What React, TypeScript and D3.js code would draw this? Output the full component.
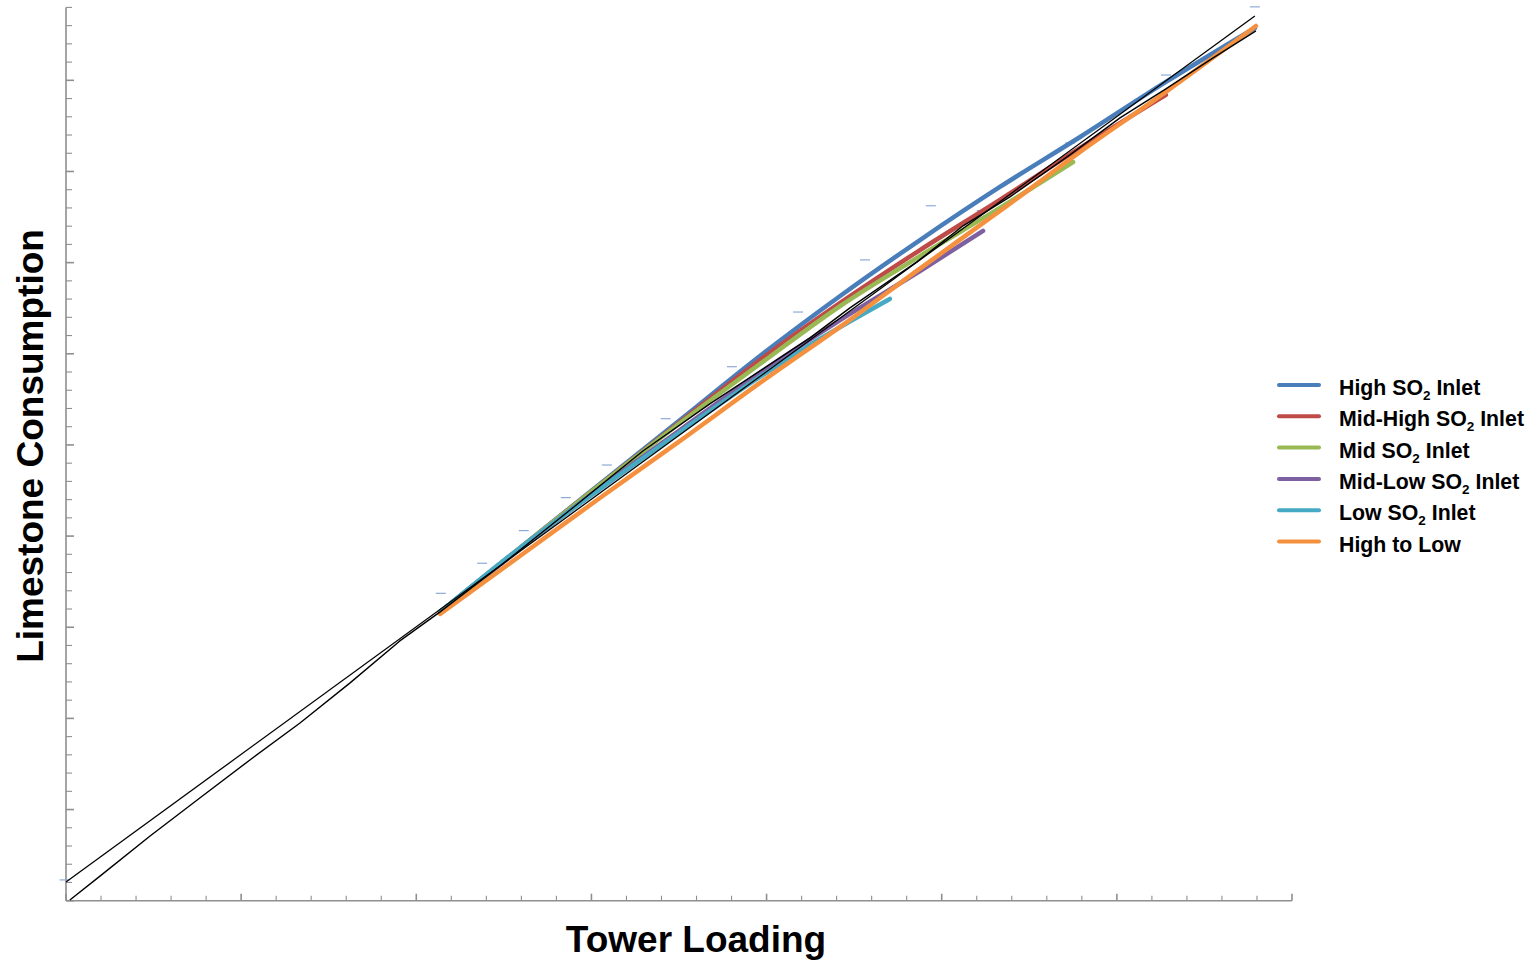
import { useEffect, useRef } from "react";
import * as d3 from "d3";

type Pt = [number, number];

// axis extents (tower loading / limestone consumption, unlabelled units)
const X_MAX = 35;
const Y_MAX = 49;

// series, [tower loading, limestone consumption]
const highSO2: Pt[] = [
  [10.68, 15.84], [12.96, 19.35], [15.24, 22.86], [17.53, 26.37], [19.81, 29.88],
  [22.1, 33.17], [24.38, 36.24], [26.66, 39.15], [28.95, 41.89], [31.4, 44.91], [33.94, 47.87],
];
const midHighSO2: Pt[] = [
  [10.68, 15.84], [12.96, 19.35], [15.24, 22.8], [17.53, 26.26], [19.81, 29.66],
  [22.1, 32.79], [24.38, 35.69], [26.66, 38.44], [28.95, 41.29], [31.4, 44.2],
];
const midSO2: Pt[] = [
  [10.68, 15.84], [12.96, 19.35], [15.24, 22.8], [17.53, 26.2], [19.81, 29.44],
  [22.1, 32.62], [24.38, 35.36], [26.66, 38.0], [28.75, 40.52],
];
const midLowSO2: Pt[] = [
  [10.68, 15.84], [12.96, 19.29], [15.24, 22.64], [17.53, 25.82], [19.81, 28.95],
  [22.1, 31.85], [24.38, 34.54], [26.18, 36.74],
];
const lowSO2: Pt[] = [
  [10.68, 15.84], [12.96, 19.35], [15.24, 22.58], [17.53, 25.71], [19.81, 28.73],
  [21.52, 30.81], [23.52, 33.01],
];
const highToLow: Pt[] = [
  [10.68, 15.73], [12.96, 18.91], [15.24, 22.09], [17.53, 25.22], [19.81, 28.4],
  [22.38, 31.86], [24.29, 34.55], [26.66, 37.83], [28.95, 41.07], [31.4, 44.37], [33.97, 47.98],
];

// black fits
const linearFit: Pt[] = [
  [0, 1.03], [33.94, 48.53],
];
const roughFit: Pt[] = [
  [0.11, 0.04], [0.97, 1.35], [2.4, 3.55], [3.82, 5.63], [5.25, 7.72], [6.68, 9.75],
  [8.11, 11.95], [9.53, 14.25], [10.68, 15.84], [12.39, 18.36], [14.39, 21.43],
  [16.47, 24.67], [18.38, 27.25], [19.9, 29.17], [21.24, 30.87], [22.38, 32.52],
  [24.29, 35.04], [25.61, 37.02], [26.95, 38.61], [28.66, 40.91], [30.09, 42.94],
  [31.4, 44.53], [32.66, 46.12], [33.97, 47.71],
];

// short blue dash markers
const dashMarks: Pt[] = [
  [-0.04, 1.14], [10.7, 16.86], [11.88, 18.51], [13.07, 20.3], [14.27, 22.11],
  [15.44, 23.9], [17.12, 26.44], [19.01, 29.29], [20.9, 32.29], [22.81, 35.15],
  [24.69, 38.12], [26.14, 37.85], [28.66, 41.56], [31.4, 45.29], [33.94, 49.03],
];

const seriesNames: string[][] = [
  ["High SO", "2", " Inlet"],
  ["Mid-High SO", "2", " Inlet"],
  ["Mid SO", "2", " Inlet"],
  ["Mid-Low SO", "2", " Inlet"],
  ["Low SO", "2", " Inlet"],
  ["High to Low", "", ""],
];
const seriesColors = ["#4a7ebb", "#be4b48", "#98b954", "#7d60a0", "#46aac5", "#f5913e"];
const seriesData = [highSO2, midHighSO2, midSO2, midLowSO2, lowSO2, highToLow];

const FONT = "'Liberation Sans', Arial, Helvetica, sans-serif";

export default function App() {
  const svgRef = useRef<SVGSVGElement>(null);

  useEffect(() => {
    if (!svgRef.current) return;
    const svg = d3.select(svgRef.current);
    svg.selectAll("*").remove();

    const left = 66;
    const right = 1292;
    const top = 7.4;
    const bottom = 900.7;

    const x = d3.scaleLinear().domain([0, X_MAX]).range([left, right]);
    const y = d3.scaleLinear().domain([0, Y_MAX]).range([bottom, top]);

    const axisColor = "#8f8f8f";

    // x axis: ticks inside, longer every 5
    const gx = svg.append("g");
    gx.append("line")
      .attr("x1", left).attr("x2", right)
      .attr("y1", bottom).attr("y2", bottom)
      .attr("stroke", axisColor).attr("stroke-width", 1.6);
    gx.selectAll("line.tick")
      .data(d3.range(0, X_MAX + 1))
      .enter()
      .append("line")
      .attr("class", "tick")
      .attr("x1", (d) => x(d)).attr("x2", (d) => x(d))
      .attr("y1", bottom)
      .attr("y2", (d) => bottom - (d % 5 === 0 ? 7 : 5))
      .attr("stroke", axisColor).attr("stroke-width", (d) => (d % 5 === 0 ? 1.6 : 1.1));

    // y axis
    const gy = svg.append("g");
    gy.append("line")
      .attr("x1", left).attr("x2", left)
      .attr("y1", top).attr("y2", bottom)
      .attr("stroke", axisColor).attr("stroke-width", 1.6);
    gy.selectAll("line.tick")
      .data(d3.range(0, Y_MAX + 1))
      .enter()
      .append("line")
      .attr("class", "tick")
      .attr("x1", left)
      .attr("x2", (d) => left + (d % 5 === 0 ? 8 : 6))
      .attr("y1", (d) => y(d)).attr("y2", (d) => y(d))
      .attr("stroke", axisColor).attr("stroke-width", (d) => (d % 5 === 0 ? 1.6 : 1.1));

    // blue dash markers
    svg.append("g")
      .selectAll("line")
      .data(dashMarks)
      .enter()
      .append("line")
      .attr("x1", (d) => x(d[0]) - 5)
      .attr("x2", (d) => x(d[0]) + 5)
      .attr("y1", (d) => y(d[1]))
      .attr("y2", (d) => y(d[1]))
      .attr("stroke", "#8eaad8")
      .attr("stroke-width", 1.2);

    const smooth = d3
      .line<Pt>()
      .x((d) => x(d[0]))
      .y((d) => y(d[1]))
      .curve(d3.curveMonotoneX);

    const straight = d3
      .line<Pt>()
      .x((d) => x(d[0]))
      .y((d) => y(d[1]));

    // coloured series
    seriesData.forEach((data, i) => {
      svg.append("path")
        .datum(data)
        .attr("fill", "none")
        .attr("stroke", seriesColors[i])
        .attr("stroke-width", 4.5)
        .attr("stroke-linecap", "round")
        .attr("d", smooth);
    });

    // black fit lines
    svg.append("path")
      .datum(linearFit)
      .attr("fill", "none")
      .attr("stroke", "#000")
      .attr("stroke-width", 1.3)
      .attr("d", straight);

    svg.append("path")
      .datum(roughFit)
      .attr("fill", "none")
      .attr("stroke", "#000")
      .attr("stroke-width", 1.4)
      .attr("stroke-linejoin", "round")
      .attr("d", straight);

    // axis titles
    svg.append("text")
      .attr("x", 696)
      .attr("y", 952)
      .attr("text-anchor", "middle")
      .attr("font-family", FONT)
      .attr("font-weight", "bold")
      .attr("font-size", 37)
      .text("Tower Loading");

    svg.append("text")
      .attr("transform", "translate(43,446) rotate(-90)")
      .attr("text-anchor", "middle")
      .attr("font-family", FONT)
      .attr("font-weight", "bold")
      .attr("font-size", 37)
      .text("Limestone Consumption");

    // legend
    const legend = svg.append("g");
    seriesNames.forEach((parts, i) => {
      const ly = 385 + i * 31.3;
      legend.append("line")
        .attr("x1", 1279).attr("x2", 1319)
        .attr("y1", ly).attr("y2", ly)
        .attr("stroke", seriesColors[i])
        .attr("stroke-width", 4)
        .attr("stroke-linecap", "round");
      const t = legend.append("text")
        .attr("x", 1339)
        .attr("y", ly + 10)
        .attr("font-family", FONT)
        .attr("font-weight", "bold")
        .attr("font-size", 21.3);
      t.append("tspan").text(parts[0]);
      if (parts[1]) {
        t.append("tspan")
          .attr("font-size", 13.5)
          .attr("dy", 5)
          .text(parts[1]);
        t.append("tspan").attr("dy", -5).text(parts[2]);
      }
    });
  }, []);

  return (
    <svg
      ref={svgRef}
      width={1535}
      height={961}
      style={{ position: "absolute", left: 0, top: 0, background: "#fff" }}
    />
  );
}
